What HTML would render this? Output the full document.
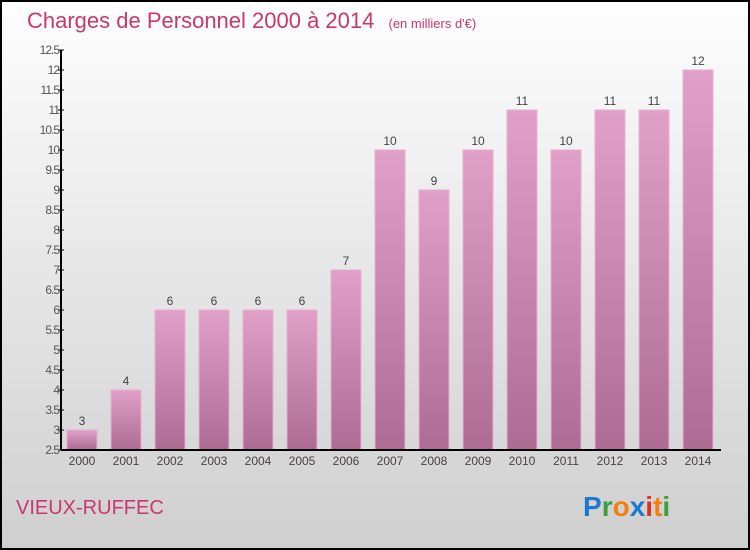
<!DOCTYPE html>
<html><head><meta charset="utf-8"><style>
body{margin:0}
svg{display:block;font-family:"Liberation Sans",sans-serif}
</style></head><body>
<svg id="c" width="750" height="550">
<defs>
<linearGradient id="bg" x1="0" y1="0" x2="0" y2="1"><stop offset="0" stop-color="#fefefe"/><stop offset="1" stop-color="#cfcfcf"/></linearGradient>
<linearGradient id="bar" x1="0" y1="0" x2="0" y2="1"><stop offset="0" stop-color="#e0a0c8"/><stop offset="1" stop-color="#ae6c94"/></linearGradient>
</defs>
<rect x="1" y="1" width="748" height="548" fill="url(#bg)" stroke="#000" stroke-width="2"/>
<text x="27" y="28" font-size="22" fill="#c8386c">Charges de Personnel 2000 à 2014 <tspan font-size="13" dx="8">(en milliers d'€)</tspan></text>
<text x="16" y="514" font-size="20" fill="#c8386c">VIEUX-RUFFEC</text>
<g font-size="28" font-weight="bold">
<text x="583" y="516"><tspan fill="#1a7ad0">P</tspan><tspan fill="#3aa040">r</tspan><tspan fill="#f08010">o</tspan><tspan fill="#1a7ad0">x</tspan><tspan fill="#e03020">i</tspan><tspan fill="#f08010">t</tspan><tspan fill="#3aa040">i</tspan></text>
</g>
<g id="plot"></g>
</svg>
<script>
const categories=["2000","2001","2002","2003","2004","2005","2006","2007","2008","2009","2010","2011","2012","2013","2014"];
const values=[3,4,6,6,6,6,7,10,9,10,11,10,11,11,12];
const yTicks=[2.5,3,3.5,4,4.5,5,5.5,6,6.5,7,7.5,8,8.5,9,9.5,10,10.5,11,11.5,12,12.5];
const yMin=2.5,yMax=12.5,yTop=50,yBot=450,xLeft=61,xRight=721;
const yS=v=>yBot-(v-yMin)/(yMax-yMin)*(yBot-yTop);
const xS=i=>82+i*44;
const g=document.getElementById('plot');
const NS="http://www.w3.org/2000/svg";
function mk(t,a){const e=document.createElementNS(NS,t);for(const k in a)e.setAttribute(k,a[k]);g.appendChild(e);return e;}
values.forEach((v,i)=>{
 const r=mk('rect',{x:xS(i)-15,y:yS(v),width:30,height:yBot-yS(v),fill:'url(#bar)',stroke:'#e8b0d0','stroke-width':1});
 
 
 const t=mk('text',{x:xS(i),y:yS(v)-5,'text-anchor':'middle','font-size':12,fill:'#444'});
 t.textContent=v;
 
 
 const c=mk('text',{x:xS(i),y:yBot+15,'text-anchor':'middle','font-size':12,fill:'#444'});
 c.textContent=categories[i];
 
 
});
yTicks.forEach(v=>{
 const l=mk('line',{x1:xLeft-3,x2:xLeft+3,y1:yS(v),y2:yS(v),stroke:'#000'});
 
 
 const t=mk('text',{x:xLeft-2,y:yS(v)+4,'text-anchor':'end','font-size':12,fill:'#555','letter-spacing':'-1'});
 t.textContent=v;
 
 
});
const ya=mk('line',{x1:xLeft,x2:xLeft,y1:yTop,y2:yBot,stroke:'#000','stroke-width':2});


const xa=mk('line',{x1:xLeft,x2:xRight,y1:yBot,y2:yBot,stroke:'#000','stroke-width':2});


</script>
</body></html>
